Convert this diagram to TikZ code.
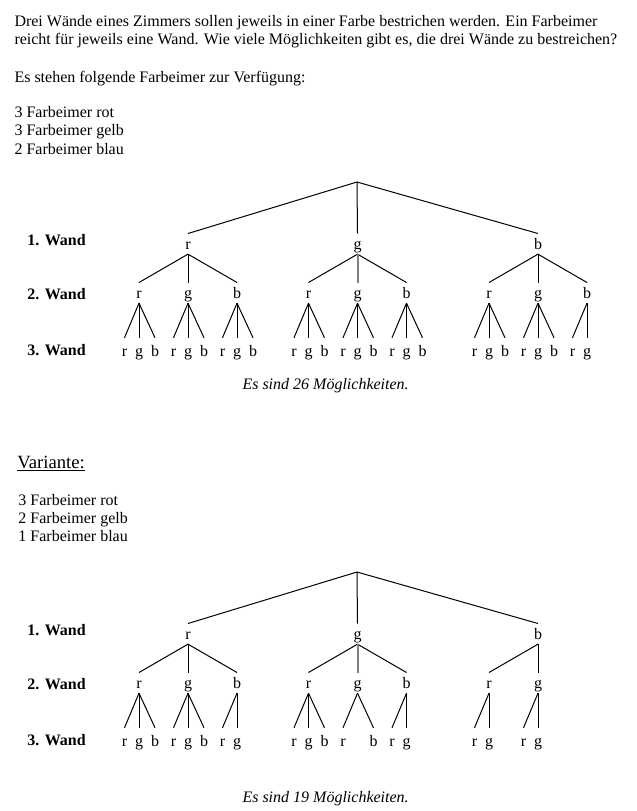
\documentclass[tikz,border=0pt]{standalone}
\usepackage{fontspec}
\setmainfont{Liberation Serif}

\begin{document}
\begin{tikzpicture}[
  x=0.75pt, y=-0.75pt,
  every node/.style={inner sep=0pt, font=\fontsize{12pt}{14pt}\selectfont},
  txt/.style={anchor=base west},
  wand/.style={anchor=base west, font=\fontsize{12pt}{14pt}\selectfont\bfseries},
  result/.style={anchor=base west, font=\fontsize{12pt}{14pt}\selectfont\itshape},
  knot/.style={anchor=base, text height=11.25pt, text depth=3.5pt},
  leaf/.style={knot, text height=13.3pt},
  every path/.style={line width=.75pt},
  hl/.style={draw=gray, line width=1.5pt}
]
\def\wandAr{188}\def\wandAg{357.5}\def\wandAb{538}
\def\wandBr{-49}\def\wandBg{0}\def\wandBb{49}
\def\wandCr{-14.5}\def\wandCg{0}\def\wandCb{16}
\useasboundingbox (0,0) rectangle (636,811);

\node[txt] (intro1) at (14,26) {Drei Wände eines Zimmers sollen jeweils in einer Farbe bestrichen werden. Ein Farbeimer};
\node[txt] (intro2) at (14,44) {reicht für jeweils eine Wand. Wie viele Möglichkeiten gibt es, die drei Wände zu bestreichen?};
\node[txt] (given) at (14,82.5) {Es stehen folgende Farbeimer zur Verfügung:};
\node[txt] (redA) at (14,117) {3 Farbeimer rot};
\node[txt] (yellowA) at (14,135.5) {3 Farbeimer gelb};
\node[txt] (blueA) at (14,154) {2 Farbeimer blau};

\node[txt, font=\fontsize{14pt}{16pt}\selectfont] (variant) at (17,468.3) {\underline{Variante:}};
\node[txt] (redB) at (18,505) {3 Farbeimer rot};
\node[txt] (yellowB) at (18,523.3) {2 Farbeimer gelb};
\node[txt] (blueB) at (18,541.7) {1 Farbeimer blau};

\node[result] (sumA) at (242,389) {Es sind 26 Möglichkeiten.};
\node[result] (sumB) at (242,802.7) {Es sind 19 Möglichkeiten.};

\foreach \t/\dy/\kids in {
    1/0/{r/r/{r,g,b},r/g/{r,g,b},r/b/{r,g,b},g/r/{r,g,b},g/g/{r,g,b},g/b/{r,g,b},b/r/{r,g,b},b/g/{r,g,b},b/b/{r,g}},
    2/390/{r/r/{r,g,b},r/g/{r,g,b},r/b/{r,g},g/r/{r,g,b},g/g/{r,b},g/b/{r,g},b/r/{r,g},b/g/{r,g}}}{
  \node[wand] (t\t-wand1) at (27,{245.7+\dy}) {1. Wand};
  \node[wand] (t\t-wand2) at (27,{299+\dy}) {2. Wand};
  \node[wand] (t\t-wand3) at (27,{355+\dy}) {3. Wand};
  \coordinate (t\t-root) at (357,{182+\dy});
  \foreach \a in {r,g,b}{
    \edef\xa{\csname wandA\a\endcsname}
    \node[knot] (t\t-\a) at (\xa,{249+\dy}) {\a};
    \draw (t\t-root) -- (t\t-\a.north);
  }
  \foreach \a/\b/\leaves in \kids{
    \edef\xa{\csname wandA\a\endcsname}
    \edef\xb{\csname wandB\b\endcsname}
    \node[knot] (t\t-\a-\b) at ({\xa+\xb},{298+\dy}) {\b};
    \draw (t\t-\a.south) -- (t\t-\a-\b.north);
    \foreach \c in \leaves{
      \edef\xc{\csname wandC\c\endcsname}
      \node[leaf] (t\t-\a-\b-\c) at ({\xa+\xb+\xc},{356+\dy}) {\c};
      \draw (t\t-\a-\b.south) -- (t\t-\a-\b-\c.north);
    }
  }
  \draw[hl] (t\t-g.south) -- (t\t-g-g.north);
}
\end{tikzpicture}
\end{document}
